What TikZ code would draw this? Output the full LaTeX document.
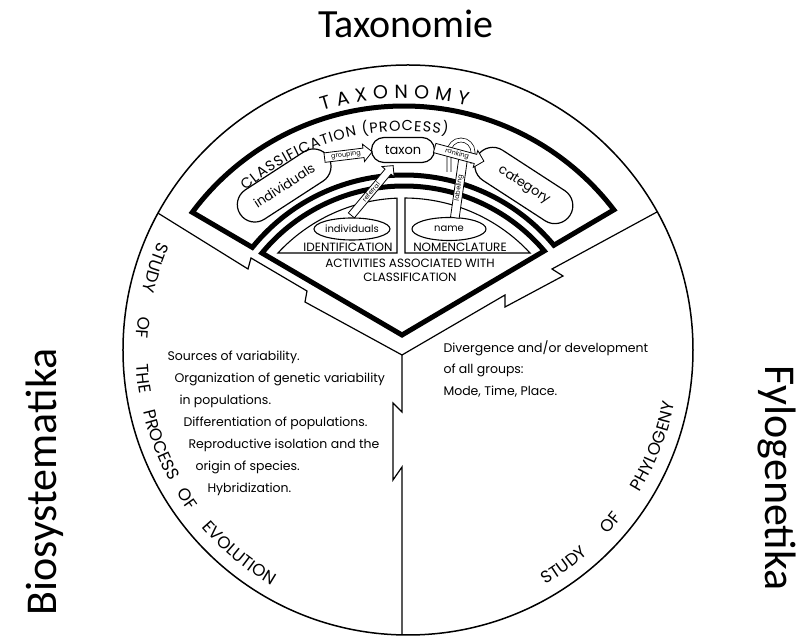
\documentclass[tikz,border=0pt]{standalone}
\usepackage{fontspec}
\setmainfont{Poppins}
\newfontfamily\calfont{Carlito}
\usetikzlibrary{calc,shapes.arrows,shapes.misc,shapes.geometric,decorations.text}
\newcommand\rimfont{\fontsize{17}{17}\selectfont}
\newcommand\bandfont{\fontsize{14.5}{14.5}\selectfont}
\newcommand\taxfont{\fontsize{19}{19}\selectfont}
\tikzset{
	rim/.style={line width=1.5pt},
	split/.style={line width=1.2pt, line join=miter},
	heavy/.style={line width=5pt, line join=miter},
	boxline/.style={line width=1.1pt},
	capsule/.style={rounded rectangle, draw, line width=1.2pt, fill=white, font=\fontsize{13}{13}\selectfont, inner sep=0pt},
	oval/.style={ellipse, draw, line width=1.1pt, fill=white, font=\fontsize{10}{10}\selectfont, inner sep=0pt},
	hollow/.style={single arrow, draw, line width=0.8pt, fill=white, inner sep=1pt, single arrow head extend=4pt, font=\fontsize{6.5}{6.5}\selectfont},
	strip/.style={rectangle, draw, line width=0.8pt, fill=white, inner sep=1pt, font=\fontsize{6.5}{6.5}\selectfont},
	caps/.style={font=\fontsize{12}{14}\selectfont},
	body/.style={anchor=base west, font=\fontsize{12.5}{12.5}\selectfont},
	side/.style={font=\calfont\fontsize{40}{40}\selectfont},
	curved/.style={decorate, decoration={text along path, text align=fit to path, text={#1}}},
}
\begin{document}
\begin{tikzpicture}[x=1pt,y=1pt]
	\useasboundingbox (-404,-269) rectangle (405,370);
	\coordinate (C) at (0,0);
	\coordinate (O) at (4,20);
	\coordinate (J) at (-2,15);
	\coordinate (apex) at (-2,35);
	\coordinate (R1) at ($(O)+(151.3:285)$);
	\coordinate (R2) at ($(O)+(29:285)$);
	\coordinate (R3) at (-2,-265);
	% circle and sector borders
	\draw[rim] (O) circle[radius=285];
	\draw[split] (R1) -- (-156,101) -- (-153,112) -- (-97,79) -- (-99,68) -- (J);
	\draw[split] (R2) -- (148,101) -- (159,94) -- (101,63) -- (101,75) -- (J);
	\draw[split] (J) -- (-2,-42) -- (-11,-33) -- (-11,-110) -- (-2,-97) -- (R3);
	% classification band and activities fan
	\draw[heavy] (143.31:264) arc[start angle=143.31, end angle=37.35, radius=264]
		-- (39.78:195) arc[start angle=39.78, end angle=141.04, radius=195] -- cycle;
	\draw[heavy] (140.53:184) arc[start angle=140.53, end angle=40.33, radius=184] -- (apex) -- cycle;
	\draw[boxline] (137.14:172) arc[start angle=137.14, end angle=92.33, radius=172] -- (-7,117) -- cycle;
	\draw[boxline] (89.67:172) arc[start angle=89.67, end angle=42.86, radius=172] -- (1,117) -- cycle;
	\draw[line width=0.7pt, double=white, double distance=3.2pt] (45,198) -- (45,218) arc[start angle=180, end angle=0, radius=12] -- (69,206);
	% boxes
	\node[capsule, minimum width=105pt, minimum height=35pt, rotate=33] (indiv) at (123:220) {individuals};
	\node[capsule, minimum width=63pt, minimum height=25pt] (taxon) at (-1,220) {taxon};
	\node[capsule, minimum width=110pt, minimum height=36pt, rotate=-33] (categ) at (57:220) {category};
	\node[oval, minimum width=75pt, minimum height=22pt] (indivb) at (-52,141) {individuals};
	\node[oval, minimum width=74pt, minimum height=23pt] (name) at (45,141) {name};
	\node[hollow, minimum height=48pt, rotate=7] (grouping) at (-58,215) {grouping};
	\node[strip, minimum width=60pt, rotate=82] (labeling) at (55,182) {labeling};
	\node[hollow, minimum height=51pt, rotate=-15] (ranking) at (53,216) {ranking};
	\node[hollow, minimum height=65pt, rotate=50] (referral) at (-33,178) {referral};
	% curved titles
	\path[curved={|\taxfont|TAXONOMY}] (107.5:272) arc[start angle=107.5, end angle=76.5, radius=272];
	\path[curved={|\bandfont|CLASSIFICATION (PROCESS)}] (131.5:239) arc[start angle=131.5, end angle=79.5, radius=239];
	\foreach \word/\from/\to in {STUDY/155.8/168.1, OF/172.2/178.2, THE/182.4/190, PROCESS/192.2/209.8, OF/211/217, EVOLUTION/218/242.6, STUDY/-60.5/-47.6, OF/-44/-36.8, PHYLOGENY/-33.7/-9.1}
		\path[decorate, decoration/.expanded={text along path, text align=center, text={|\noexpand\rimfont|\word}}] (O) ++(\from:272) arc[start angle=\from, end angle=\to, radius=272];
	\node[caps] (ident) at (-56,123) {IDENTIFICATION};
	\node[caps] (nomen) at (56,123) {NOMENCLATURE};
	\node[caps, align=center] (activ) at (6,100) {ACTIVITIES ASSOCIATED WITH\\CLASSIFICATION};
	% sector texts
	\node[body] (ev1) at (-240,9) {Sources of variability.};
	\node[body] (ev2) at (-233,-13) {Organization of genetic variability};
	\node[body] (ev3) at (-228,-35) {in populations.};
	\node[body] (ev4) at (-224,-57) {Differentiation of populations.};
	\node[body] (ev5) at (-219,-79) {Reproductive isolation and the};
	\node[body] (ev6) at (-212,-101) {origin of species.};
	\node[body] (ev7) at (-200,-123) {Hybridization.};
	\node[body] (ph1) at (36,17) {Divergence and/or development};
	\node[body] (ph2) at (36,-4) {of all groups:};
	\node[body] (ph3) at (36,-26) {Mode, Time, Place.};
	% outside labels
	\node[side] (taxlab) at (2,346) {Taxonomie};
	\node[side, font=\calfont\fontsize{44}{44}\selectfont, rotate=90] (biolab) at (-359,-112) {Biosystematika};
	\node[side, font=\calfont\fontsize{44}{44}\selectfont, rotate=-90] (fyllab) at (373,-108) {Fylogenetika};
\end{tikzpicture}
\end{document}
